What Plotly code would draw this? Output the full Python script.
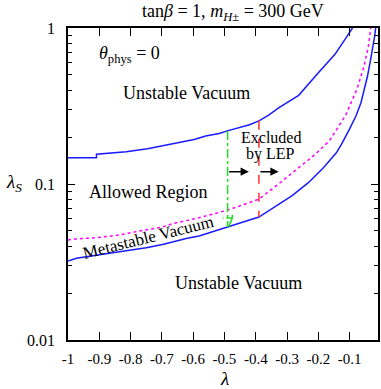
import numpy as np
import plotly.graph_objects as go

# boundary curves (lambda, lambda_S)
upper_lam = [-1.0, -0.909, -0.909, -0.814, -0.746, -0.687, -0.639, -0.597, -0.56, -0.517,
             -0.491, -0.454, -0.42, -0.39, -0.36, -0.327, -0.263, -0.2, -0.147, -0.115,
             -0.094, -0.091]
upper_ls = [0.1475, 0.1475, 0.155, 0.161, 0.168, 0.177, 0.184, 0.193, 0.203, 0.211,
            0.219, 0.23, 0.24, 0.254, 0.275, 0.308, 0.37, 0.517, 0.678, 0.846,
            0.98, 1.0]

lower_lam = [-1.0, -0.973, -0.889, -0.814, -0.75, -0.698, -0.655, -0.619, -0.581, -0.49,
             -0.39, -0.327, -0.285, -0.232, -0.184, -0.142, -0.126, -0.101, -0.08, -0.064,
             -0.054, -0.043, -0.033, -0.025, -0.02, -0.017]
lower_ls = [0.0321, 0.0334, 0.0354, 0.0372, 0.039, 0.041, 0.0431, 0.0449, 0.0464, 0.053,
            0.0614, 0.074, 0.084, 0.102, 0.127, 0.159, 0.18, 0.224, 0.273, 0.332,
            0.404, 0.492, 0.63, 0.767, 0.889, 1.0]

meta_lam = [-1.0, -0.983, -0.909, -0.835, -0.771, -0.698, -0.666, -0.581, -0.49, -0.39,
            -0.327, -0.263, -0.21, -0.165, -0.114, -0.077, -0.054, -0.04, -0.033]
meta_ls = [0.0437, 0.0443, 0.0453, 0.0471, 0.05, 0.053, 0.0557, 0.0608, 0.068, 0.08,
           0.1, 0.127, 0.155, 0.189, 0.273, 0.404, 0.57, 0.767, 1.0]

# vertical cuts
green_lam = [-0.49, -0.49, None, -0.475, -0.475, -0.506, None, -0.475, -0.486]
green_ls = [0.219, 0.053, None, 0.0634, 0.0605, 0.0605, None, 0.0605, 0.0535]
red_lam = [-0.39, -0.39]
red_ls = [0.254, 0.0614]

arrow_tail = [-0.49, -0.39]
arrow_tip = [-0.422, -0.327]
arrow_ls = 0.12

xticks = [-1, -0.9, -0.8, -0.7, -0.6, -0.5, -0.4, -0.3, -0.2, -0.1]
xlabels = ['-1', '-0.9', '-0.8', '-0.7', '-0.6', '-0.5', '-0.4', '-0.3', '-0.2', '-0.1']
yticks = [0.01, 0.1, 1]
ylabels = ['0.01', '0.1', '1']

FONT = 'Liberation Serif'

fig = go.Figure()
fig.add_trace(go.Scatter(x=upper_lam, y=upper_ls, mode='lines',
                         line=dict(color='#1a1aff', width=1.5)))
fig.add_trace(go.Scatter(x=lower_lam, y=lower_ls, mode='lines',
                         line=dict(color='#1a1aff', width=1.5)))
fig.add_trace(go.Scatter(x=meta_lam, y=meta_ls, mode='lines',
                         line=dict(color='#ff00ff', width=1.5, dash='dot')))
fig.add_trace(go.Scatter(x=green_lam, y=green_ls, mode='lines', connectgaps=False,
                         line=dict(color='#22dd22', width=1.5, dash='dashdot')))
fig.add_trace(go.Scatter(x=red_lam, y=red_ls, mode='lines',
                         line=dict(color='#ff3030', width=1.5, dash='dash')))

for t0, t1 in zip(arrow_tail, arrow_tip):
    fig.add_annotation(x=t1, y=np.log10(arrow_ls), ax=t0, ay=np.log10(arrow_ls),
                       xref='x', yref='y', axref='x', ayref='y', text='',
                       showarrow=True, arrowhead=2, arrowsize=1.1, arrowwidth=1.5,
                       arrowcolor='black')

labels = [
    (-0.803, -0.173, '<i>θ</i><sub>phys</sub> = 0', 18, 0),
    (-0.621, -0.417, 'Unstable Vacuum', 18, 0),
    (-0.743, -1.051, 'Allowed Region', 18, 0),
    (-0.746, -1.34, 'Metastable Vacuum', 17, -14),
    (-0.454, -1.635, 'Unstable Vacuum', 18, 0),
    (-0.352, -0.699, 'Excluded', 16, 0),
    (-0.352, -0.808, 'by LEP', 16, 0),
]
for x, y, txt, sz, ang in labels:
    fig.add_annotation(x=x, y=y, xref='x', yref='y', text=txt, showarrow=False,
                       textangle=ang, font=dict(family=FONT, size=sz, color='black'))

fig.add_annotation(x=0.532, y=1.051, xref='paper', yref='paper', showarrow=False,
                   xanchor='center', yanchor='middle',
                   text='tan<i>β</i> = 1, <i>m</i><sub><i>H</i>±</sub> = 300 GeV',
                   font=dict(family=FONT, size=18, color='black'))
fig.add_annotation(x=-0.175, y=0.503, xref='paper', yref='paper', showarrow=False,
                   xanchor='center', yanchor='middle',
                   text='<i>λ</i><sub><i>S</i></sub>',
                   font=dict(family=FONT, size=19, color='black'))
fig.add_annotation(x=0.506, y=-0.124, xref='paper', yref='paper', showarrow=False,
                   xanchor='center', yanchor='middle',
                   text='<i>λ</i>', font=dict(family=FONT, size=19, color='black'))

fig.update_layout(
    width=381, height=389,
    margin=dict(l=68, r=1, t=28, b=49),
    paper_bgcolor='white', plot_bgcolor='white',
    showlegend=False,
    font=dict(family=FONT, size=16, color='black'),
)
fig.update_xaxes(range=[-1, -0.0095], tickvals=xticks, ticktext=xlabels,
                 ticks='inside', ticklen=8, tickwidth=1.2, tickcolor='black',
                 showline=True, linecolor='black', linewidth=1.5, mirror='ticks',
                 showgrid=False, zeroline=False, ticklabelstandoff=4,
                 tickfont=dict(size=15))
fig.update_yaxes(type='log', range=[-2, 0], tickvals=yticks, ticktext=ylabels,
                 ticks='inside', ticklen=7, tickwidth=1.2, tickcolor='black',
                 showline=True, linecolor='black', linewidth=1.5, mirror='ticks',
                 showgrid=False, zeroline=False, ticklabelstandoff=8,
                 minor=dict(ticks='inside', ticklen=4, tickcolor='black',
                            dtick='D1', showgrid=False),
                 tickfont=dict(size=16))

fig.write_html("out.html", config={'displayModeBar': False},
               post_script="document.body.style.margin='0';")
